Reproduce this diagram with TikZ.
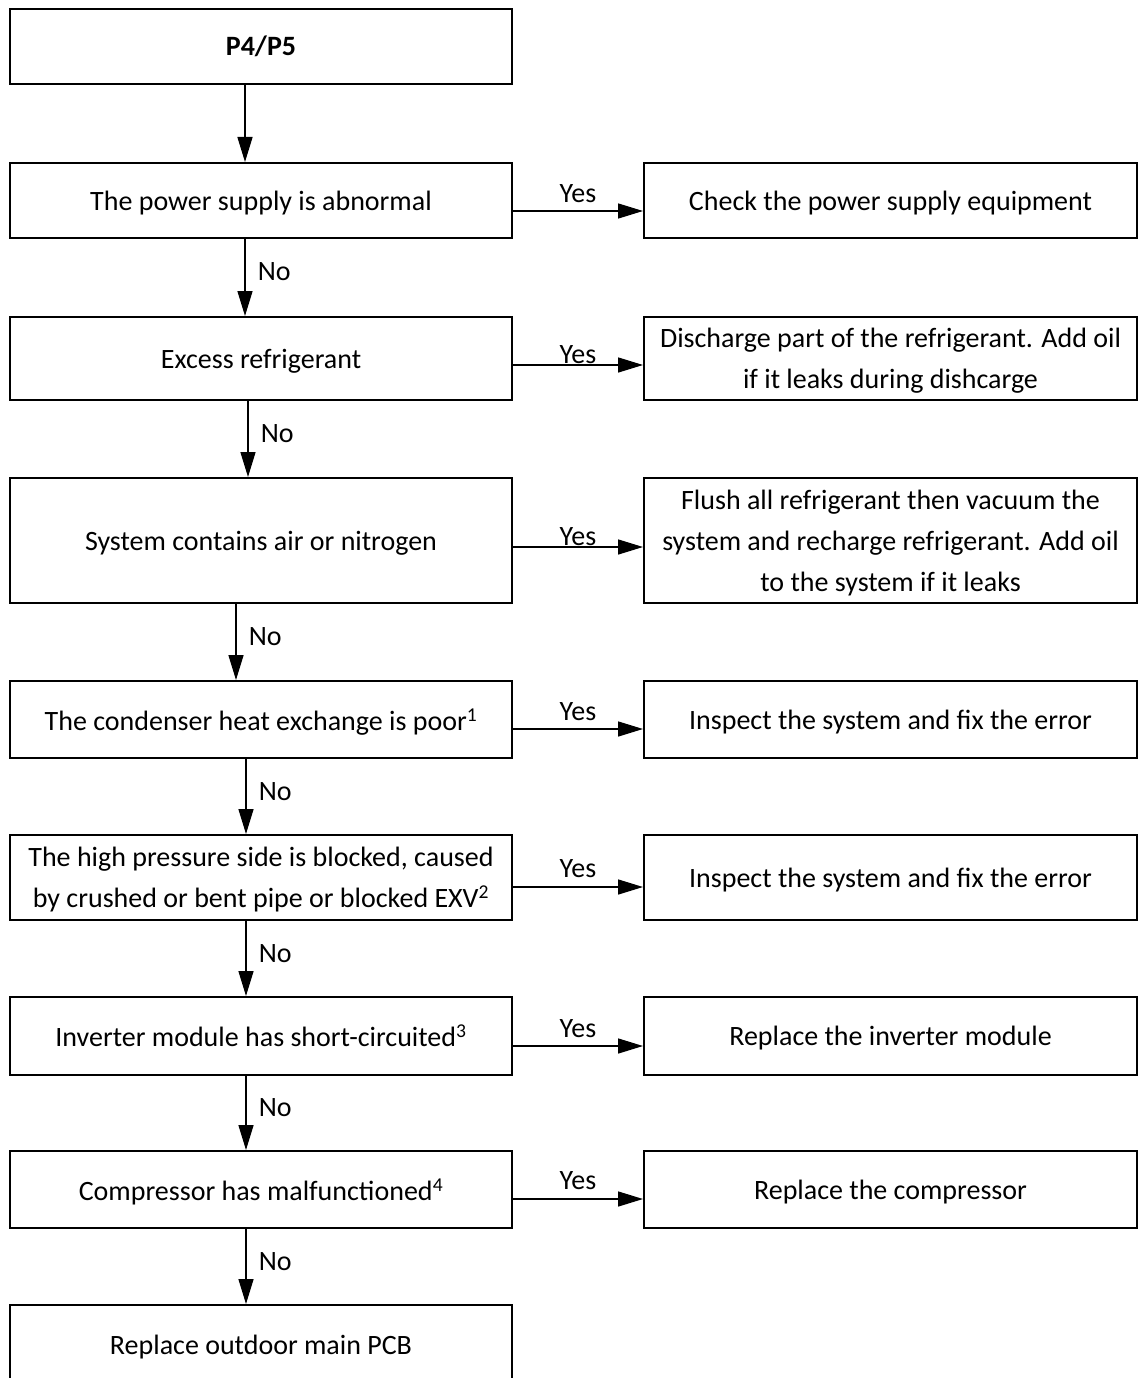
\documentclass[tikz,border=0pt]{standalone}
\usepackage{fontspec}
\setmainfont{Carlito}
\usetikzlibrary{arrows.meta}
\tikzset{
  box/.style={draw, line width=2pt, fill=white, align=center, inner sep=0pt,
              font=\fontsize{28}{41}\selectfont},
  lbox/.style={box, minimum width=502pt, text depth=0pt},
  rbox/.style={box, minimum width=493pt, text depth=0pt},
  arr/.style={line width=1.5pt, -{Triangle[length=25pt,width=15pt]}},
  lbl/.style={font=\fontsize{28}{34}\selectfont, inner sep=0pt},
  no/.style={lbl, pos=0.43, anchor=west, xshift=12pt},
  yes/.style={lbl, midway, anchor=base}
}
\begin{document}
\begin{tikzpicture}[x=1pt, y=-1pt]
\useasboundingbox (0,0) rectangle (1139,1378);
% left column
\node[box, minimum width=502pt, minimum height=75pt] (n0) at (261,46.5) {\textbf{P4/P5}};
\node[lbox, minimum height=75pt]  (l1) at (261,200.5) {The power supply is abnormal};
\node[lbox, minimum height=83pt]  (l2) at (261,358.5) {Excess refrigerant};
\node[lbox, minimum height=125pt] (l3) at (261,540.5) {System contains air or nitrogen};
\node[lbox, minimum height=77pt]  (l4) at (261,719.5) {The condenser heat exchange is poor\textsuperscript{1}};
\node[lbox, minimum height=85pt]  (l5) at (261,877.5) {The high pressure side is blocked, caused\\by crushed or bent pipe or blocked EXV\textsuperscript{2}};
\node[lbox, minimum height=78pt]  (l6) at (261,1036)  {Inverter module has short-circuited\textsuperscript{3}};
\node[lbox, minimum height=77pt]  (l7) at (261,1189.5){Compressor has malfunctioned\textsuperscript{4}};
\node[lbox, minimum height=80pt]  (l8) at (261,1345)  {Replace outdoor main PCB};
% right column
\node[rbox, minimum height=75pt]  (r1) at (890.5,200.5) {Check the power supply equipment};
\node[rbox, minimum height=83pt]  (r2) at (890.5,358.5) {Discharge part of the refrigerant. Add oil\\if it leaks during dishcarge};
\node[rbox, minimum height=125pt] (r3) at (890.5,540.5) {Flush all refrigerant then vacuum the\\system and recharge refrigerant. Add oil\\to the system if it leaks};
\node[rbox, minimum height=77pt]  (r4) at (890.5,719.5) {Inspect the system and fix the error};
\node[rbox, minimum height=85pt]  (r5) at (890.5,877.5) {Inspect the system and fix the error};
\node[rbox, minimum height=78pt]  (r6) at (890.5,1036)  {Replace the inverter module};
\node[rbox, minimum height=77pt]  (r7) at (890.5,1189.5){Replace the compressor};
% vertical connectors
\draw[arr] ([xshift=-16pt]n0.south) -- ([xshift=-16pt]l1.north);
\draw[arr] ([xshift=-16pt]l1.south) -- node[no]{No} ([xshift=-16pt]l2.north);
\draw[arr] ([xshift=-13pt]l2.south) -- node[no]{No} ([xshift=-13pt]l3.north);
\draw[arr] ([xshift=-25pt]l3.south) -- node[no]{No} ([xshift=-25pt]l4.north);
\draw[arr] ([xshift=-15pt]l4.south) -- node[no]{No} ([xshift=-15pt]l5.north);
\draw[arr] ([xshift=-15pt]l5.south) -- node[no]{No} ([xshift=-15pt]l6.north);
\draw[arr] ([xshift=-15pt]l6.south) -- node[no]{No} ([xshift=-15pt]l7.north);
\draw[arr] ([xshift=-15pt]l7.south) -- node[no]{No} ([xshift=-15pt]l8.north);
% horizontal connectors
\draw[arr] ([yshift=-10.5pt]l1.east) -- node[yes, yshift=9pt]{Yes} ([yshift=-10.5pt]r1.west);
\draw[arr] ([yshift=-6.5pt]l2.east)  -- node[yes, yshift=2pt]{Yes} ([yshift=-6.5pt]r2.west);
\draw[arr] ([yshift=-6.5pt]l3.east)  -- node[yes, yshift=2pt]{Yes} ([yshift=-6.5pt]r3.west);
\draw[arr] ([yshift=-9.5pt]l4.east)  -- node[yes, yshift=9pt]{Yes} ([yshift=-9.5pt]r4.west);
\draw[arr] ([yshift=-9.5pt]l5.east)  -- node[yes, yshift=10pt]{Yes} ([yshift=-9.5pt]r5.west);
\draw[arr] ([yshift=-10pt]l6.east)   -- node[yes, yshift=9pt]{Yes} ([yshift=-10pt]r6.west);
\draw[arr] ([yshift=-9.5pt]l7.east)  -- node[yes, yshift=10pt]{Yes} ([yshift=-9.5pt]r7.west);
\end{tikzpicture}
\end{document}
